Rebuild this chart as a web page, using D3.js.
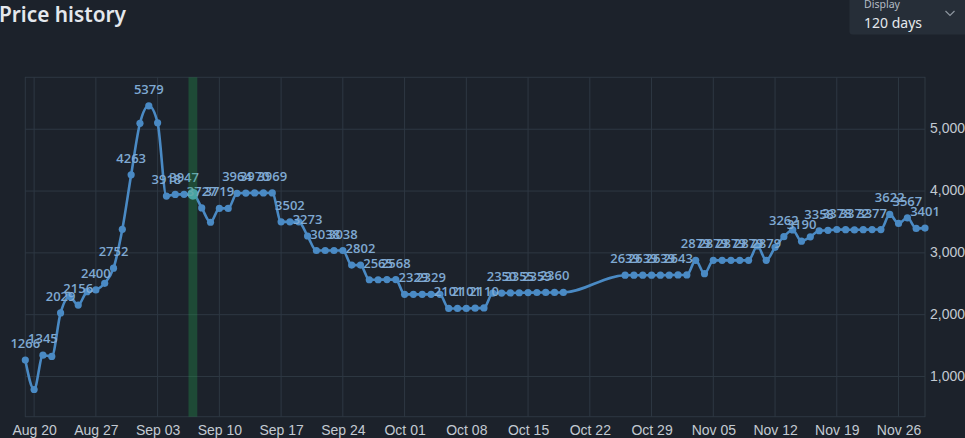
<!DOCTYPE html>
<html>
<head>
<meta charset="utf-8">
<script src="https://cdn.jsdelivr.net/npm/d3@7"></script>
<style>
  html, body { margin: 0; padding: 0; background: #1c222b; overflow: hidden; }
  svg { display: block; }
  .grid line, .grid path { stroke: #2e3843; stroke-width: 1; }
  .axis text { fill: #c3cad2; font-family: "Liberation Sans", Arial, sans-serif; font-size: 14px; }
  .axis path, .axis line { stroke: none; }
  .point-label { fill: #7fa9d2; font-family: "Open Sans", sans-serif; font-size: 13px; font-weight: 600; text-anchor: middle; }
</style>
</head>
<body>
<svg id="chart"></svg>
<script>
// price data (2023), one entry per day, Oct 20-25 missing
const dates = [
  "08-19","08-20","08-21","08-22","08-23","08-24","08-25","08-26","08-27","08-28","08-29","08-30","08-31",
  "09-01","09-02","09-03","09-04","09-05","09-06","09-07","09-08","09-09","09-10","09-11","09-12","09-13","09-14","09-15",
  "09-16","09-17","09-18","09-19","09-20","09-21","09-22","09-23","09-24","09-25","09-26","09-27","09-28","09-29","09-30",
  "10-01","10-02","10-03","10-04","10-05","10-06","10-07","10-08","10-09","10-10","10-11","10-12","10-13","10-14","10-15",
  "10-16","10-17","10-18","10-19",
  "10-26","10-27","10-28","10-29","10-30","10-31",
  "11-01","11-02","11-03","11-04","11-05","11-06","11-07","11-08","11-09","11-10","11-11","11-12","11-13","11-14","11-15",
  "11-16","11-17","11-18","11-19","11-20","11-21","11-22","11-23","11-24","11-25","11-26","11-27","11-28","11-29"
];
const prices = [
  1266, 790, 1345, 1325, 2029, 2295, 2156, 2372, 2400, 2508, 2752, 3381, 4263,
  5096, 5379, 5103, 3918, 3945, 3947, 3950, 3727, 3495, 3719, 3719, 3964, 3968, 3970, 3970,
  3969, 3502, 3502, 3502, 3273, 3038, 3038, 3038, 3038, 2802, 2802, 2565, 2565, 2568, 2568,
  2329, 2329, 2329, 2329, 2329, 2101, 2101, 2101, 2105, 2110, 2350, 2350, 2352, 2355, 2357,
  2359, 2360, 2360, 2360,
  2639, 2639, 2639, 2639, 2639, 2640,
  2643, 2643, 2879, 2663, 2879, 2879, 2879, 2879, 2879, 3111, 2879, 3090, 3262, 3371, 3190,
  3260, 3358, 3365, 3378, 3375, 3372, 3375, 3377, 3377, 3622, 3476, 3567, 3395, 3401
];
const yTicks = [1000, 2000, 3000, 4000, 5000];
const highlightDay = "09-07";
const year = 2023;

const width = 965;
const height = 438;
const plot = {left: 25.3, right: 925, top: 77.3, bottom: 416.7};

const parse = d3.timeParse("%Y-%m-%d");
const data = dates.map((d, i) => ({date: parse(year + "-" + d), price: prices[i], i: i}));

const svg = d3.select("#chart").attr("width", width).attr("height", height);

const x = d3.scaleTime()
    .domain([parse("2023-08-19"), parse("2023-11-29")])
    .range([plot.left, plot.right]);

const y = d3.scaleLinear()
    .domain([350, 5840])
    .range([plot.bottom, plot.top]);

// Заголовок
svg.append("text")
    .attr("x", -1).attr("y", 22)
    .attr("textLength", 127).attr("lengthAdjust", "spacingAndGlyphs")
    .style("font-family", "'Noto Sans', sans-serif")
    .style("font-size", "22px").style("font-weight", 600)
    .style("fill", "#e4e8ed")
    .text("Price history");

// Display selector
svg.append("rect")
    .attr("x", 849.5).attr("y", -6).attr("width", 130).attr("height", 40.5)
    .attr("rx", 3).attr("fill", "#262e38");
svg.append("text")
    .attr("x", 864).attr("y", 8)
    .attr("textLength", 36).attr("lengthAdjust", "spacingAndGlyphs")
    .style("font-family", "'Noto Sans', sans-serif").style("font-size", "11px")
    .style("fill", "#b4bcc5").text("Display");
svg.append("text")
    .attr("x", 864).attr("y", 27.7)
    .attr("textLength", 58).attr("lengthAdjust", "spacingAndGlyphs")
    .style("font-family", "'Noto Sans', sans-serif").style("font-size", "15px")
    .style("fill", "#e4e8ed").text("120 days");
svg.append("path")
    .attr("d", "M945.5,11 L950,15.5 L954.5,11")
    .attr("fill", "none").attr("stroke", "#8d959f").attr("stroke-width", 1.2);

// Сетка
const grid = svg.append("g").attr("class", "grid");
grid.selectAll(".hline")
    .data(yTicks)
    .enter().append("line")
    .attr("x1", plot.left).attr("x2", plot.right)
    .attr("y1", d => y(d)).attr("y2", d => y(d));
grid.selectAll(".vline")
    .data(x.ticks(d3.timeWeek))
    .enter().append("line")
    .attr("x1", d => x(d)).attr("x2", d => x(d))
    .attr("y1", plot.top).attr("y2", plot.bottom);
grid.append("rect")
    .attr("x", plot.left).attr("y", plot.top)
    .attr("width", plot.right - plot.left).attr("height", plot.bottom - plot.top)
    .attr("fill", "none").attr("stroke", "#2e3843");

// Оси
svg.append("g")
    .attr("class", "axis")
    .attr("transform", `translate(0,${plot.bottom})`)
    .call(d3.axisBottom(x).ticks(d3.timeWeek).tickFormat(d3.timeFormat("%b %d")).tickSize(0).tickPadding(8));

svg.append("g")
    .attr("class", "axis")
    .attr("transform", `translate(${plot.right},0)`)
    .call(d3.axisRight(y).tickValues(yTicks).tickFormat(d3.format(",")).tickSize(0).tickPadding(5))
    .selectAll("text").attr("dy", "0.25em");

// Линия цены
const line = d3.line()
    .x(d => x(d.date))
    .y(d => y(d.price))
    .curve(d3.curveMonotoneX);

svg.append("path")
    .datum(data)
    .attr("fill", "none")
    .attr("stroke", "#4a8ac4")
    .attr("stroke-width", 2.6)
    .attr("d", line);

svg.selectAll(".dot")
    .data(data)
    .enter().append("circle")
    .attr("cx", d => x(d.date))
    .attr("cy", d => y(d.price))
    .attr("r", d => dates[d.i] === highlightDay ? 5.5 : 3.6)
    .attr("fill", d => dates[d.i] === highlightDay ? "#5aa2c8" : "#4a8ac4");

// Подписи — каждая вторая точка
svg.selectAll(".point-label")
    .data(data.filter(d => d.i % 2 === 0))
    .enter().append("text")
    .attr("class", "point-label")
    .attr("x", d => x(d.date))
    .attr("y", d => y(d.price) - 12)
    .text(d => d.price);

// Выделенный день
const hd = parse(year + "-" + highlightDay);
svg.append("rect")
    .attr("x", x(d3.timeHour.offset(hd, -12)))
    .attr("y", plot.top)
    .attr("width", x(d3.timeHour.offset(hd, 12)) - x(d3.timeHour.offset(hd, -12)))
    .attr("height", plot.bottom - plot.top)
    .attr("fill", "rgba(38,170,80,0.3)");
</script>
</body>
</html>
